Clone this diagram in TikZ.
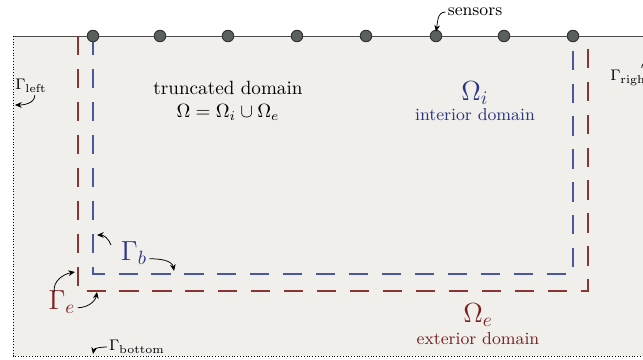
\documentclass[tikz,border=0pt]{standalone}
\usetikzlibrary{arrows.meta}
\definecolor{bgfill}{HTML}{F0EFEB}
\definecolor{dblue}{HTML}{2A3483}
\definecolor{dred}{HTML}{7A1F1F}
\definecolor{lblue}{HTML}{4A579F}
\definecolor{lred}{HTML}{8A3535}
\definecolor{sensfill}{HTML}{5A615C}
\tikzset{
  lbl/.style={inner sep=1pt},
  ptr/.style={-{Stealth[length=3.5pt,width=3pt]}, line width=0.4pt, black},
  sensor/.style={circle, fill=sensfill, draw=black!80, line width=0.5pt, minimum size=6pt, inner sep=0pt},
  bndline/.style={line width=0.55pt, dash pattern=on 10pt off 7.2pt},
}
\begin{document}
\begin{tikzpicture}[x=0.5222pt,y=-0.5222pt]
\useasboundingbox (0,0) rectangle (643,359);
\clip (0,0) rectangle (643,359);
% domain
\fill[bgfill] (13,36) rectangle (700,356);
\draw[black!70, line width=0.5pt] (13,36) -- (700,36);
\draw[densely dotted, line width=0.45pt] (13,36) -- (13,356) -- (700,356);
% boundaries
\draw[bndline, lred] (78,36) -- (78,291) -- (588,291) -- (588,36);
\draw[bndline, lblue] (93,36) -- (93,274) -- (573,274) -- (573,36);
% sensors
\foreach \i/\x in {1/93,2/160,3/228,4/297,5/366,6/436,7/504,8/573}
  \node[sensor] (s\i) at (\x,36) {};
% texts
\node[lbl, align=center] (trunc) at (228,101) {truncated domain\\$\Omega=\Omega_i\cup\Omega_e$};
\node[lbl, text=dblue] (omi) at (475,93) {\Large$\Omega_i$};
\node[lbl, text=dblue] (intd) at (475,115) {\small interior domain};
\node[lbl, text=dred] (ome) at (478,315) {\Large$\Omega_e$};
\node[lbl, text=dred] (extd) at (478,339) {\small exterior domain};
\node[lbl] (sens) at (475,12) {\small sensors};
\node[lbl] (gl) at (31,86) {\footnotesize$\Gamma_{\mathrm{left}}$};
\node[lbl, anchor=west] (gr) at (608,78) {\footnotesize$\Gamma_{\mathrm{right}}$};
\node[lbl] (gbot) at (137,347) {\footnotesize$\Gamma_{\mathrm{bottom}}$};
\node[lbl, text=dblue] (gb) at (134,253) {\Large$\Gamma_b$};
\node[lbl, text=dred] (ge) at (62,302) {\Large$\Gamma_e$};
% anchors for pointers
\coordinate (pl) at (15,105);
\coordinate (pr) at (660,60);
\coordinate (pbot) at (93,354);
\coordinate (pb1) at (97,235);
\coordinate (pb2) at (174,271);
\coordinate (pe1) at (75,272);
\coordinate (pe2) at (97,292);
% pointers
\draw[ptr] (sens.west) to[out=180,in=80] ([yshift=-1pt]s6.north);
\draw[ptr] ([xshift=2pt]gl.south) to[out=-90,in=0] (pl);
\draw[ptr] ([xshift=-6pt]gr.north east) to[out=90,in=180] (pr);
\draw[ptr] (gbot.west) to[out=180,in=80] (pbot);
\draw[ptr] ([xshift=-4pt,yshift=-3pt]gb.north west) to[out=110,in=0] (pb1);
\draw[ptr] ([yshift=-3pt]gb.east) to[out=0,in=100] (pb2);
\draw[ptr] ([xshift=-4pt,yshift=-2pt]ge.north) to[out=100,in=190] (pe1);
\draw[ptr] ([yshift=-3pt]ge.east) to[out=0,in=-100] (pe2);
\end{tikzpicture}
\end{document}
